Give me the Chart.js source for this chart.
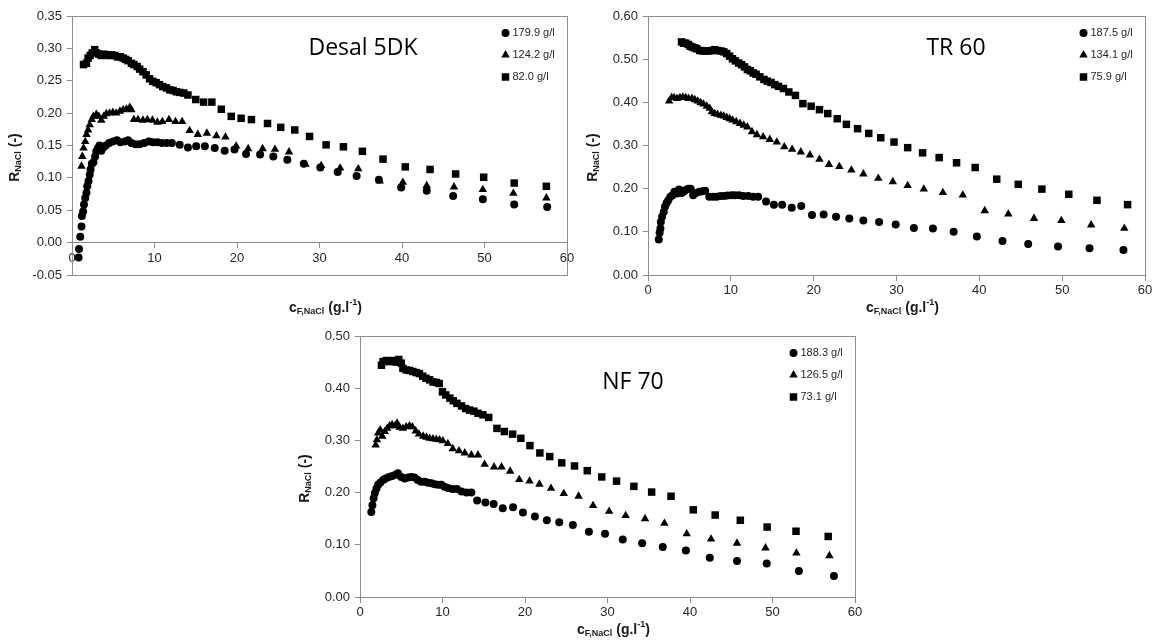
<!DOCTYPE html>
<html>
<head>
<meta charset="utf-8">
<script src="https://cdn.jsdelivr.net/npm/chart.js@4.4.1/dist/chart.umd.min.js"></script>
<style>
    html, body { margin: 0; padding: 0; background: #fff; }
    body { width: 1156px; height: 641px; position: relative; overflow: hidden; }
    .panel { position: absolute; }
    #p1 { left: 0; top: 0; }
    #p2 { left: 578px; top: 0; }
    #p3 { left: 290px; top: 320px; }
</style>
</head>
<body>
<div class="panel" id="p1"><canvas id="c1" width="578" height="320"></canvas></div>
<div class="panel" id="p2"><canvas id="c2" width="578" height="320"></canvas></div>
<div class="panel" id="p3"><canvas id="c3" width="578" height="321"></canvas></div>
<script>
        // Data: [c_F,NaCl (g/l), R_NaCl (-)]
        const xTicks = [0, 60, 10];

        // Desal 5DK
        const desalLabels = ['179.9 g/l', '124.2 g/l', '82.0 g/l'];
        const desalYTicks = [-0.05, 0.35, 0.05];
        const desal179 = [[0.8,-0.023],[0.85,-0.010],[1.0,0.009],[1.15,0.025],[1.2,0.041],[1.35,0.048],[1.45,0.059],[1.6,0.069],[1.75,0.077],[1.85,0.087],[2.0,0.095],[2.15,0.105],[2.25,0.113],[2.4,0.122],[2.6,0.124],[2.8,0.133],[2.95,0.141],[3.15,0.146],[3.35,0.150],[3.55,0.142],[3.75,0.146],[4.1,0.150],[4.5,0.154],[4.95,0.156],[5.45,0.158],[5.85,0.155],[6.4,0.156],[6.8,0.158],[7.2,0.154],[7.7,0.152],[8.2,0.152],[8.75,0.154],[9.3,0.156],[9.8,0.155],[10.35,0.155],[10.9,0.154],[11.5,0.154],[12.1,0.154],[13.05,0.151],[14.05,0.147],[15.05,0.149],[16.1,0.149],[17.3,0.146],[18.5,0.142],[19.7,0.144],[21.1,0.137],[22.8,0.136],[24.4,0.133],[26.1,0.128],[28.1,0.122],[30.1,0.116],[32.2,0.109],[34.5,0.103],[37.2,0.097],[39.9,0.085],[43.0,0.080],[46.2,0.072],[49.8,0.067],[53.6,0.059],[57.6,0.055]];
        const desal124 = [[1.15,0.118],[1.25,0.133],[1.4,0.146],[1.6,0.156],[1.75,0.167],[1.95,0.174],[2.15,0.182],[2.4,0.190],[2.6,0.195],[2.95,0.198],[3.25,0.195],[3.55,0.189],[3.85,0.195],[4.15,0.199],[4.55,0.200],[4.95,0.201],[5.35,0.200],[5.8,0.203],[6.2,0.205],[6.6,0.206],[7.0,0.209],[7.2,0.205],[7.5,0.190],[8.0,0.190],[8.6,0.189],[9.15,0.190],[9.75,0.189],[10.35,0.186],[10.95,0.187],[11.75,0.190],[12.55,0.187],[13.35,0.187],[14.25,0.173],[15.25,0.167],[16.35,0.169],[17.5,0.165],[18.6,0.163],[19.9,0.149],[21.35,0.145],[23.1,0.145],[24.6,0.144],[26.3,0.140],[28.3,0.121],[30.2,0.119],[32.5,0.115],[34.7,0.114],[37.3,0.095],[40.1,0.093],[43.0,0.088],[46.3,0.086],[49.8,0.082],[53.5,0.076],[57.5,0.069]];
        const desal82 = [[1.4,0.275],[1.75,0.277],[1.95,0.285],[2.2,0.289],[2.45,0.293],[2.75,0.298],[2.95,0.293],[3.25,0.291],[3.55,0.289],[3.85,0.291],[4.15,0.290],[4.5,0.289],[4.8,0.290],[5.2,0.289],[5.5,0.287],[5.85,0.287],[6.2,0.285],[6.5,0.283],[6.8,0.281],[7.2,0.277],[7.5,0.275],[7.9,0.272],[8.2,0.268],[8.6,0.264],[9.0,0.259],[9.4,0.253],[9.8,0.249],[10.2,0.247],[10.6,0.244],[11.0,0.241],[11.45,0.239],[11.85,0.236],[12.25,0.235],[12.65,0.233],[13.05,0.232],[13.55,0.231],[14.05,0.228],[15.0,0.221],[15.95,0.217],[16.95,0.217],[18.1,0.206],[19.3,0.195],[20.5,0.192],[21.75,0.190],[23.7,0.184],[25.3,0.178],[27.0,0.174],[28.8,0.164],[30.8,0.151],[32.9,0.148],[35.2,0.141],[37.7,0.129],[40.4,0.117],[43.4,0.113],[46.5,0.106],[49.9,0.101],[53.6,0.092],[57.5,0.087]];

        // TR 60
        const trLabels = ['187.5 g/l', '134.1 g/l', '75.9 g/l'];
        const trYTicks = [0, 0.6, 0.1];
        const tr187 = [[1.3,0.082],[1.4,0.098],[1.5,0.108],[1.55,0.123],[1.7,0.135],[1.9,0.146],[2.05,0.158],[2.25,0.167],[2.45,0.173],[2.7,0.181],[2.95,0.185],[3.2,0.193],[3.5,0.189],[3.75,0.198],[4.05,0.190],[4.3,0.193],[4.55,0.197],[4.85,0.200],[5.15,0.200],[5.45,0.185],[5.8,0.190],[6.2,0.193],[6.55,0.194],[6.9,0.195],[7.4,0.181],[7.85,0.181],[8.3,0.181],[8.75,0.183],[9.2,0.183],[9.6,0.184],[10.1,0.185],[10.5,0.185],[11.0,0.185],[11.5,0.183],[12.1,0.183],[12.7,0.181],[13.3,0.181],[14.25,0.170],[15.2,0.163],[16.2,0.163],[17.35,0.156],[18.5,0.160],[19.8,0.139],[21.2,0.140],[22.7,0.135],[24.3,0.131],[26.0,0.126],[27.9,0.123],[29.9,0.117],[32.1,0.109],[34.4,0.108],[36.9,0.100],[39.7,0.089],[42.8,0.079],[45.9,0.072],[49.5,0.066],[53.3,0.062],[57.4,0.058]];
        const tr134 = [[2.55,0.403],[2.85,0.411],[3.15,0.411],[3.5,0.409],[3.85,0.411],[4.2,0.412],[4.55,0.411],[4.9,0.409],[5.3,0.409],[5.65,0.406],[6.0,0.403],[6.35,0.399],[6.7,0.396],[7.1,0.391],[7.45,0.386],[7.7,0.378],[8.05,0.374],[8.4,0.372],[8.8,0.370],[9.15,0.368],[9.5,0.365],[9.85,0.362],[10.2,0.359],[10.65,0.355],[11.1,0.351],[11.55,0.347],[12.0,0.343],[12.55,0.332],[13.15,0.325],[13.9,0.320],[14.7,0.314],[15.55,0.308],[16.45,0.297],[17.4,0.291],[18.45,0.285],[19.55,0.278],[20.7,0.268],[21.85,0.256],[23.1,0.251],[24.55,0.243],[26.0,0.234],[27.8,0.224],[29.55,0.216],[31.35,0.207],[33.3,0.199],[35.6,0.191],[38.0,0.185],[40.65,0.149],[43.5,0.141],[46.6,0.131],[49.9,0.126],[53.5,0.116],[57.5,0.108]];
        const tr76 = [[4.05,0.540],[4.3,0.537],[4.55,0.537],[4.85,0.534],[5.1,0.530],[5.35,0.528],[5.65,0.526],[5.9,0.524],[6.25,0.520],[6.65,0.519],[7.0,0.519],[7.35,0.519],[7.7,0.520],[8.05,0.522],[8.4,0.520],[8.8,0.519],[9.15,0.517],[9.5,0.513],[9.85,0.507],[10.2,0.501],[10.55,0.496],[10.95,0.491],[11.3,0.487],[11.65,0.482],[12.0,0.476],[12.35,0.473],[12.7,0.468],[13.05,0.465],[13.5,0.459],[14.0,0.453],[14.4,0.449],[14.85,0.446],[15.3,0.441],[15.75,0.437],[16.35,0.432],[17.0,0.424],[17.8,0.416],[18.7,0.397],[19.7,0.391],[20.7,0.383],[21.7,0.374],[22.85,0.362],[23.95,0.349],[25.3,0.339],[26.65,0.328],[28.1,0.318],[29.7,0.308],[31.35,0.295],[33.15,0.283],[35.15,0.272],[37.25,0.260],[39.5,0.249],[42.1,0.222],[44.7,0.210],[47.55,0.199],[50.8,0.187],[54.2,0.173],[57.9,0.163]];

        // NF 70
        const nfLabels = ['188.3 g/l', '126.5 g/l', '73.1 g/l'];
        const nfYTicks = [0, 0.5, 0.1];
        const nf188 = [[1.37,0.163],[1.5,0.176],[1.65,0.189],[1.8,0.199],[2.0,0.208],[2.2,0.215],[2.45,0.219],[2.8,0.224],[3.1,0.227],[3.5,0.230],[3.9,0.232],[4.3,0.234],[4.6,0.237],[5.0,0.230],[5.4,0.227],[5.8,0.229],[6.2,0.230],[6.6,0.229],[7.0,0.224],[7.4,0.221],[7.85,0.221],[8.25,0.219],[8.65,0.218],[9.05,0.216],[9.45,0.215],[9.85,0.215],[10.25,0.211],[10.65,0.209],[11.2,0.207],[11.75,0.207],[12.3,0.202],[12.9,0.200],[13.5,0.200],[14.2,0.185],[15.2,0.181],[16.2,0.178],[17.3,0.170],[18.55,0.172],[19.75,0.162],[21.2,0.154],[22.65,0.147],[24.15,0.143],[25.8,0.138],[27.75,0.125],[29.7,0.121],[31.85,0.110],[34.2,0.103],[36.7,0.096],[39.5,0.089],[42.4,0.075],[45.7,0.069],[49.3,0.064],[53.2,0.050],[57.45,0.040]];
        const nf126 = [[1.9,0.291],[2.05,0.301],[2.2,0.314],[2.45,0.320],[2.7,0.308],[3.0,0.317],[3.3,0.323],[3.6,0.328],[3.9,0.330],[4.25,0.328],[4.5,0.333],[4.8,0.325],[5.2,0.323],[5.6,0.326],[6.0,0.328],[6.35,0.326],[6.75,0.318],[7.15,0.312],[7.65,0.308],[8.05,0.306],[8.45,0.304],[8.85,0.303],[9.25,0.302],[9.65,0.301],[10.05,0.299],[10.65,0.294],[11.25,0.284],[12.0,0.280],[12.7,0.276],[13.5,0.272],[14.3,0.272],[15.1,0.254],[16.25,0.249],[17.15,0.249],[18.2,0.241],[19.3,0.225],[20.55,0.222],[21.75,0.216],[23.15,0.208],[24.7,0.198],[26.5,0.193],[28.25,0.175],[30.2,0.164],[32.2,0.156],[34.55,0.150],[36.9,0.141],[39.6,0.121],[42.55,0.111],[45.7,0.103],[49.15,0.094],[52.9,0.084],[56.9,0.079]];
        const nf73 = [[2.6,0.444],[2.8,0.451],[3.2,0.453],[3.6,0.451],[4.0,0.453],[4.4,0.450],[4.7,0.455],[5.0,0.448],[5.2,0.438],[5.6,0.435],[6.0,0.434],[6.4,0.432],[6.8,0.430],[7.2,0.428],[7.6,0.423],[8.0,0.419],[8.45,0.416],[8.85,0.412],[9.25,0.411],[9.6,0.409],[10.0,0.393],[10.4,0.387],[10.9,0.381],[11.3,0.376],[11.75,0.371],[12.3,0.366],[12.8,0.361],[13.3,0.358],[13.8,0.356],[14.3,0.352],[14.9,0.349],[15.6,0.344],[16.6,0.323],[17.5,0.317],[18.5,0.312],[19.5,0.304],[20.6,0.290],[21.8,0.276],[23.0,0.269],[24.45,0.257],[26.0,0.251],[27.55,0.242],[29.3,0.230],[31.1,0.222],[33.2,0.212],[35.35,0.201],[37.7,0.193],[40.4,0.167],[43.05,0.157],[46.1,0.147],[49.35,0.134],[52.85,0.126],[56.75,0.116]];

        const markerStyles = ['circle', 'triangle', 'rect'];
        const markerRadius = { circle: 4, triangle: 4.9, rect: 5.3 };
        const axisGray = '#8c8c8c';
        const fontFamily = '"Liberation Sans", Arial, sans-serif';

        Chart.defaults.font.family = fontFamily;
        Chart.defaults.font.size = 13;
        Chart.defaults.color = '#262626';

        function drawMarker(ctx, style, x, y) {
            const r = markerRadius[style];
            ctx.beginPath();
            if (style === 'circle') {
                ctx.arc(x, y, r, 0, Math.PI * 2);
            } else if (style === 'triangle') {
                ctx.moveTo(x, y - r);
                ctx.lineTo(x + r * 0.866, y + r * 0.5);
                ctx.lineTo(x - r * 0.866, y + r * 0.5);
                ctx.closePath();
            } else {
                const s = r * Math.SQRT1_2;
                ctx.rect(x - s, y - s, 2 * s, 2 * s);
            }
            ctx.fill();
        }

        // text with sub/superscripts, parts = [text, size, dy]
        function drawRich(ctx, parts, x, y, rotate) {
            ctx.save();
            ctx.translate(x, y);
            if (rotate) ctx.rotate(-Math.PI / 2);
            let total = 0;
            parts.forEach(p => {
                ctx.font = 'bold ' + p[1] + 'px ' + fontFamily;
                total += ctx.measureText(p[0]).width;
            });
            let cx = -total / 2;
            ctx.textBaseline = 'middle';
            ctx.textAlign = 'left';
            ctx.fillStyle = '#1a1a1a';
            parts.forEach(p => {
                ctx.font = 'bold ' + p[1] + 'px ' + fontFamily;
                ctx.fillText(p[0], cx, p[2]);
                cx += ctx.measureText(p[0]).width;
            });
            ctx.restore();
        }

        const xTitle = [['c', 14, 0], ['F,NaCl', 9, 4], [' (g.l', 14, 0], ['-1', 9, -5], [')', 14, 0]];
        const yTitle = [['R', 14, 0], ['NaCl', 9, 4], [' (-)', 14, 0]];

        const decor = {
            id: 'decor',
            afterDraw(chart, args, opts) {
                const ctx = chart.ctx;
                const a = chart.chartArea;
                ctx.save();
                // plot frame
                ctx.strokeStyle = axisGray;
                ctx.lineWidth = 1;
                ctx.strokeRect(Math.round(a.left) + 0.5, Math.round(a.top) + 0.5,
                    Math.round(a.right - a.left), Math.round(a.bottom - a.top));

                // legend inside plot, top right
                ctx.font = '11px ' + fontFamily;
                ctx.textBaseline = 'middle';
                ctx.textAlign = 'left';
                chart.data.datasets.forEach((ds, i) => {
                    const y = a.top + 17 + i * 22;
                    const mx = a.right - 61.5;
                    ctx.fillStyle = '#000';
                    drawMarker(ctx, ds.pointStyle, mx, y);
                    ctx.fillStyle = '#262626';
                    ctx.fillText(ds.label, mx + 7, y);
                });

                // big panel title
                ctx.font = '23px "Open Sans", sans-serif';
                ctx.textAlign = 'center';
                ctx.fillStyle = '#000';
                ctx.fillText(opts.title, opts.titleX, opts.titleY);

                // axis titles
                drawRich(ctx, xTitle, (a.left + a.right) / 2 + 6, a.bottom + 33, false);
                drawRich(ctx, yTitle, 15, (a.top + a.bottom) / 2 + 12, true);
                ctx.restore();
            }
        };

        function makeChart(id, title, titleX, titleY, labels, series, yTicks, yWidth, pad) {
            const datasets = series.map((s, i) => ({
                label: labels[i],
                data: s.map(p => ({ x: p[0], y: p[1] })),
                pointStyle: markerStyles[i],
                pointRadius: markerRadius[markerStyles[i]],
                backgroundColor: '#000',
                borderColor: '#000',
                borderWidth: 0,
                showLine: false
            }));
            return new Chart(document.getElementById(id), {
                type: 'scatter',
                data: { datasets },
                plugins: [decor],
                options: {
                    responsive: false,
                    animation: false,
                    events: [],
                    layout: { padding: pad },
                    plugins: {
                        legend: { display: false },
                        tooltip: { enabled: false },
                        decor: { title, titleX, titleY }
                    },
                    scales: {
                        x: {
                            type: 'linear',
                            position: { y: 0 },
                            min: xTicks[0],
                            max: xTicks[1],
                            ticks: { stepSize: xTicks[2], padding: 3, maxRotation: 0 },
                            grid: { drawOnChartArea: false, tickLength: 5, color: axisGray },
                            border: { color: axisGray }
                        },
                        y: {
                            type: 'linear',
                            min: yTicks[0],
                            max: yTicks[1],
                            afterFit: scale => { scale.width = yWidth; },
                            ticks: {
                                stepSize: yTicks[2],
                                padding: 5,
                                callback: v => (Math.abs(v) < 1e-9 ? 0 : v).toFixed(2)
                            },
                            grid: { drawOnChartArea: false, tickLength: 5, color: axisGray },
                            border: { color: axisGray }
                        }
                    }
                }
            });
        }

        makeChart('c1', 'Desal 5DK', 363, 48, desalLabels, [desal179, desal124, desal82], desalYTicks, 72,
            { left: 0, right: 11, top: 16, bottom: 45 });
        makeChart('c2', 'TR 60', 378, 48, trLabels, [tr187, tr134, tr76], trYTicks, 70,
            { left: 0, right: 11, top: 16, bottom: 45 });
        makeChart('c3', 'NF 70', 343, 62, nfLabels, [nf188, nf126, nf73], nfYTicks, 70,
            { left: 0, right: 13, top: 16, bottom: 44 });
</script>
</body>
</html>
